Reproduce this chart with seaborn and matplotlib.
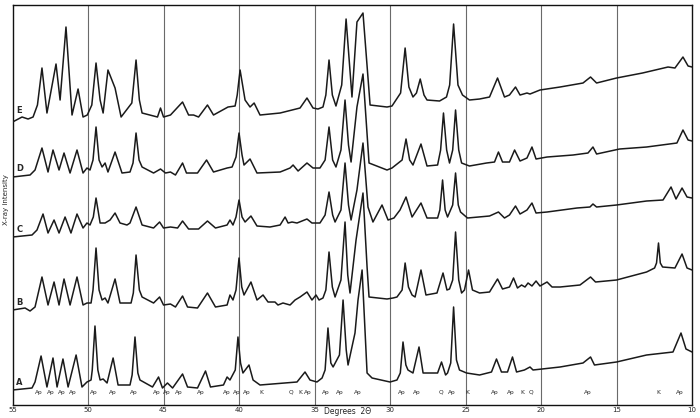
import pandas as pd
import matplotlib
matplotlib.use("Agg")
import matplotlib.pyplot as plt
import seaborn as sns

# --- DATA (2-theta in degrees, intensity in arbitrary units) ---
E_DEG = [55.0, 54.37, 53.97, 53.64, 53.35, 53.05, 52.72, 52.12, 51.85, 51.46, 51.06, 50.66, 50.33,
         50.05, 49.75, 49.47, 49.2, 49.0, 48.68, 48.21, 47.81, 47.1, 46.82, 46.6, 46.42, 45.4, 45.2,
         45.0, 44.54, 43.74, 43.34, 43.01, 42.68, 42.09, 41.69, 40.73, 40.26, 40.12, 39.93, 39.6, 39.27,
         39.0, 38.61, 37.28, 35.96, 35.5, 35.1, 34.77, 34.44, 34.25, 34.04, 33.82, 33.58, 33.2, 32.91,
         32.52, 32.19, 31.79, 31.32, 30.2, 29.87, 29.3, 29.0, 28.75, 28.48, 28.25, 28.0, 27.75, 27.55,
         26.72, 26.26, 26.05, 25.79, 25.5, 25.2, 24.74, 24.07, 23.41, 22.88, 22.42, 22.09, 21.69, 21.39,
         20.93, 20.73, 20.07, 18.74, 17.22, 16.72, 16.32, 15.0, 13.28, 11.59, 11.13, 10.6, 10.26, 10.0]
E_INT = [283, 288, 286, 288, 300, 337, 292, 341, 305, 378, 290, 316, 288,
         290, 300, 342, 305, 292, 335, 317, 288, 302, 345, 305, 292, 288, 297,
         288, 290, 303, 290, 290, 288, 300, 290, 298, 299, 310, 335, 305, 298,
         302, 290, 292, 297, 307, 297, 296, 298, 310, 345, 310, 299, 320, 386,
         308, 383, 392, 300, 298, 299, 312, 357, 318, 308, 312, 326, 310, 305,
         304, 308, 320, 381, 320, 310, 305, 306, 308, 327, 308, 310, 318, 310,
         312, 311, 315, 318, 322, 328, 322, 327, 332, 338, 337, 348, 339, 338]

D_DEG = [55.0, 53.84, 53.51, 53.05, 52.65, 52.32, 51.92, 51.59, 51.19, 50.73, 50.33, 50.07, 49.87,
         49.67, 49.47, 49.27, 49.07, 48.87, 48.68, 48.21, 47.75, 47.22, 47.02, 46.82, 46.62, 46.42, 45.66,
         45.2, 44.87, 44.54, 44.21, 43.74, 43.48, 42.75, 42.15, 41.69, 40.79, 40.46, 40.2, 40.0, 39.8,
         39.67, 39.27, 38.81, 37.28, 36.62, 36.42, 36.09, 35.5, 35.1, 34.64, 34.3, 34.04, 33.8, 33.58,
         33.25, 32.98, 32.75, 32.58, 32.19, 31.79, 31.39, 30.2, 29.87, 29.2, 28.94, 28.7, 28.48, 27.95,
         27.55, 26.85, 26.65, 26.46, 26.25, 26.06, 25.85, 25.66, 25.45, 25.26, 24.74, 23.61, 23.08, 22.82,
         22.55, 22.09, 21.75, 21.39, 20.93, 20.6, 20.33, 19.6, 17.88, 16.89, 16.56, 16.32, 14.8, 13.01,
         11.0, 10.6, 10.26, 10.0]
D_INT = [228, 230, 235, 257, 233, 255, 235, 252, 232, 255, 232, 237, 235,
         245, 278, 245, 238, 242, 233, 253, 232, 233, 242, 272, 245, 238, 232,
         236, 232, 233, 230, 242, 232, 232, 245, 233, 237, 238, 248, 272, 250,
         240, 246, 232, 233, 237, 240, 234, 242, 237, 237, 245, 278, 245, 238,
         255, 305, 260, 243, 298, 331, 242, 235, 237, 245, 266, 245, 240, 261,
         239, 240, 255, 292, 255, 242, 255, 295, 255, 242, 239, 242, 243, 253,
         243, 243, 255, 244, 247, 258, 246, 248, 250, 252, 258, 251, 256, 258,
         262, 275, 265, 264]

C_DEG = [55.0, 53.71, 53.38, 52.98, 52.65, 52.25, 51.92, 51.52, 51.13, 50.73, 50.33, 50.07, 49.87,
         49.65, 49.47, 49.2, 48.87, 48.54, 48.21, 47.88, 47.42, 47.22, 46.82, 46.42, 45.66, 45.26, 45.0,
         44.54, 44.07, 43.74, 43.34, 42.68, 42.09, 41.56, 40.79, 40.6, 40.4, 40.2, 40.0, 39.8, 39.6,
         39.21, 38.81, 37.95, 37.28, 36.95, 36.75, 36.49, 36.16, 35.5, 35.17, 34.64, 34.3, 34.04, 33.8,
         33.64, 33.25, 32.98, 32.75, 32.58, 32.19, 31.79, 31.46, 31.13, 30.53, 30.13, 29.74, 29.34, 28.94,
         28.54, 27.95, 27.55, 26.85, 26.7, 26.52, 26.35, 26.19, 25.85, 25.66, 25.48, 25.33, 24.87, 23.41,
         22.82, 22.42, 22.09, 21.69, 21.39, 20.93, 20.6, 20.33, 19.6, 17.62, 16.76, 16.56, 16.32, 15.0,
         13.01, 11.92, 11.39, 11.06, 10.66, 10.33, 10.0]
C_INT = [168, 170, 175, 191, 172, 185, 172, 188, 172, 191, 177, 182, 180,
         188, 207, 182, 182, 185, 192, 182, 180, 182, 198, 180, 177, 183, 177,
         178, 177, 184, 176, 176, 184, 177, 180, 185, 180, 188, 205, 188, 183,
         189, 179, 178, 180, 188, 182, 183, 182, 186, 182, 182, 190, 213, 190,
         183, 195, 242, 200, 185, 215, 262, 198, 183, 200, 185, 187, 195, 208,
         188, 202, 187, 187, 195, 225, 195, 188, 200, 232, 200, 193, 187, 189,
         193, 187, 190, 199, 191, 195, 202, 192, 193, 197, 198, 201, 198, 200,
         204, 205, 218, 206, 217, 208, 207]

B_DEG = [55.0, 54.17, 53.84, 53.51, 53.05, 52.65, 52.25, 51.92, 51.59, 51.19, 50.73, 50.33, 50.07,
         49.8, 49.67, 49.47, 49.27, 49.07, 48.87, 48.68, 48.21, 47.88, 47.15, 47.0, 46.82, 46.6, 46.42,
         45.66, 45.26, 45.0, 44.54, 44.21, 43.74, 43.41, 42.75, 42.09, 41.56, 40.79, 40.6, 40.4, 40.2,
         40.0, 39.82, 39.67, 39.21, 38.81, 38.41, 38.08, 37.62, 37.42, 37.09, 36.62, 36.29, 35.96, 35.5,
         35.17, 34.9, 34.7, 34.44, 34.25, 34.04, 33.82, 33.64, 33.25, 32.98, 32.8, 32.65, 32.25, 31.79,
         31.52, 31.39, 30.2, 29.8, 29.54, 29.2, 29.0, 28.78, 28.54, 28.34, 27.95, 27.62, 26.89, 26.49,
         26.23, 26.06, 25.85, 25.66, 25.45, 25.26, 25.07, 24.8, 24.54, 24.07, 23.41, 22.88, 22.55, 22.09,
         21.82, 21.56, 21.29, 21.06, 20.86, 20.6, 20.33, 20.07, 19.6, 19.27, 18.74, 17.42, 16.72, 16.39,
         15.0, 13.01, 12.48, 12.35, 12.22, 12.1, 11.95, 11.13, 10.66, 10.33, 10.0]
B_INT = [95, 97, 94, 98, 128, 100, 123, 100, 126, 100, 128, 100, 102,
         102, 115, 157, 115, 105, 107, 102, 126, 102, 102, 112, 150, 115, 108,
         102, 108, 100, 101, 98, 109, 98, 97, 112, 98, 100, 110, 105, 115,
         147, 118, 110, 123, 105, 110, 103, 103, 100, 102, 100, 105, 108, 113,
         105, 110, 105, 107, 115, 153, 118, 108, 125, 183, 130, 112, 165, 212,
         138, 108, 106, 107, 108, 115, 142, 118, 110, 108, 135, 110, 112, 132,
         115, 116, 125, 173, 125, 112, 115, 135, 115, 112, 113, 126, 116, 118,
         127, 117, 120, 118, 122, 119, 124, 119, 123, 118, 118, 120, 128, 123,
         125, 133, 137, 142, 162, 142, 138, 137, 151, 137, 135]

A_DEG = [55.0, 53.71, 53.51, 53.11, 52.72, 52.32, 52.05, 51.66, 51.32, 50.79, 50.4, 50.07, 49.8,
         49.72, 49.54, 49.35, 49.2, 49.0, 48.74, 48.34, 48.01, 47.22, 47.08, 46.89, 46.7, 46.56, 45.73,
         45.33, 45.07, 44.74, 44.4, 43.74, 43.41, 42.75, 42.22, 41.89, 41.03, 40.79, 40.6, 40.25, 40.07,
         39.9, 39.74, 39.34, 39.07, 38.61, 36.16, 35.63, 35.3, 34.84, 34.5, 34.3, 34.11, 33.92, 33.77,
         33.35, 33.11, 32.9, 32.78, 32.32, 32.12, 31.85, 31.52, 31.19, 30.0, 29.54, 29.32, 29.14, 28.95,
         28.81, 28.48, 28.08, 27.81, 26.85, 26.59, 26.32, 26.19, 25.98, 25.79, 25.6, 25.4, 24.93, 24.07,
         23.28, 22.95, 22.62, 22.22, 21.89, 21.62, 21.1, 20.73, 20.53, 18.74, 17.22, 16.72, 16.46, 15.0,
         13.01, 11.26, 10.73, 10.4, 10.0]
A_INT = [15, 17, 23, 49, 18, 47, 18, 46, 18, 50, 18, 23, 25,
         35, 79, 35, 25, 26, 22, 47, 20, 20, 30, 68, 32, 25, 18,
         28, 17, 22, 17, 31, 18, 17, 34, 18, 20, 28, 25, 35, 68,
         42, 32, 40, 25, 20, 23, 33, 25, 23, 27, 35, 77, 42, 38,
         50, 105, 55, 40, 72, 105, 135, 32, 27, 23, 25, 32, 63, 40,
         35, 32, 58, 32, 32, 43, 30, 32, 42, 98, 45, 35, 32, 30,
         33, 46, 33, 33, 48, 33, 35, 38, 35, 38, 42, 48, 40, 43,
         50, 53, 72, 56, 53]

TRACE_NAMES = ["E", "D", "C", "B", "A"]
TRACE_LABEL_Y = [295, 237, 176, 103, 23]

PEAK_POS = [53.25, 52.45, 51.72, 51.0, 49.6, 48.34, 46.95, 45.43, 44.77, 43.97, 42.52, 40.8, 40.13,
            39.47, 38.54, 36.56, 35.96, 35.43, 34.24, 33.31, 32.12, 29.2, 28.21, 26.62, 25.9, 24.9,
            23.05, 22.0, 21.26, 20.66, 16.9, 12.2, 10.8]
PEAK_LBL = ["Ap", "Ap", "Ap", "Ap", "Ap", "Ap", "Ap", "Ap", "Ap", "Ap", "Ap", "Ap", "Ap",
            "Ap", "K", "Q", "K", "Ap", "Ap", "Ap", "Ap", "Ap", "Ap", "Q", "Ap", "K",
            "Ap", "Ap", "K", "Q", "Ap", "K", "Ap"]

X_TICKS = [55, 50, 45, 40, 35, 30, 25, 20, 15, 10]


def draw():
    sns.set_style("white")
    plt.rcParams["font.family"] = ["DejaVu Sans"]

    fig = plt.figure(figsize=(7.0, 4.18), dpi=100)
    ax = fig.add_axes([0.0179, 0.0311, 0.9707, 0.9569])

    # vertical reference lines every 5 degrees
    for t in X_TICKS[1:-1]:
        ax.axvline(t, color="#6a6a6a", linewidth=0.8, zorder=1)

    traces = [(E_DEG, E_INT), (D_DEG, D_INT), (C_DEG, C_INT), (B_DEG, B_INT), (A_DEG, A_INT)]
    for (xs, ys) in traces:
        df = pd.DataFrame({"deg": xs, "intensity": ys})
        sns.lineplot(data=df, x="deg", y="intensity", ax=ax, color="#1a1a1a",
                     linewidth=1.1, sort=False, estimator=None, zorder=3,
                     solid_joinstyle="round", solid_capstyle="round")

    for name, yv in zip(TRACE_NAMES, TRACE_LABEL_Y):
        ax.text(54.55, yv, name, fontsize=6, fontweight="bold", ha="center", va="center")

    for pos, lbl in zip(PEAK_POS, PEAK_LBL):
        ax.text(pos, 13, lbl, fontsize=4.2, ha="center", va="center")

    ax.set_xlim(55, 10)
    ax.set_ylim(0, 400)
    ax.set_xticks(X_TICKS)
    ax.set_xticklabels([str(t) for t in X_TICKS], fontsize=5)
    ax.set_yticks([])
    ax.tick_params(axis="x", length=0, pad=1.5)
    ax.set_xlabel("")
    ax.set_ylabel("")
    for sp in ax.spines.values():
        sp.set_color("#111111")
        sp.set_linewidth(1.0)

    fig.text(348 / 700, 1 - 411 / 418, "Degrees  2\u0398", fontsize=5.5, ha="center", va="center")
    fig.text(6 / 700, 1 - 200 / 418, "X-ray intensity", fontsize=5, rotation=90,
             ha="center", va="center")

    fig.savefig("out.png", dpi=100)


if __name__ == "__main__":
    draw()
